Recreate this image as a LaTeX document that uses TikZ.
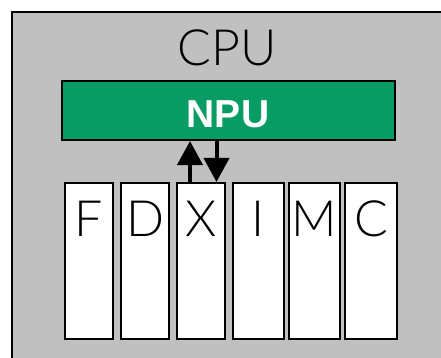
\documentclass[tikz,border=0pt]{standalone}
\usepackage{fontspec}
\setmainfont{Liberation Sans}
\newfontfamily\lightfont{Lato Light}
\usetikzlibrary{arrows.meta}
\definecolor{cpugray}{HTML}{C0C0C0}
\definecolor{npugreen}{HTML}{079C64}
\tikzset{
  stagebox/.style={draw=black, line width=2pt, fill=white, minimum width=48pt,
    minimum height=156pt, inner sep=0pt, anchor=north},
  stagelabel/.style={font=\lightfont\fontsize{50}{50}\selectfont, anchor=base, inner sep=0pt},
  bus/.style={line width=4pt, -{Triangle[width=25pt,length=24pt]}}
}
\begin{document}
\begin{tikzpicture}[x=1pt,y=-1pt]
  \useasboundingbox (0,0) rectangle (441,358);
  % CPU enclosure, running off the right and bottom edges
  \clip (0,0) rectangle (441,358);
  \draw[line width=2pt, fill=cpugray] (12,12) rectangle (460,380);
  \node[stagelabel] (cpu) at (227,66) {CPU};
  % NPU block
  \node[draw=black, line width=2pt, fill=npugreen, minimum width=333pt, minimum height=59pt,
        inner sep=0pt] (npu) at (228.5,110.5) {};
  \node[anchor=base, inner sep=0pt, text=white, font=\bfseries\fontsize{39}{39}\selectfont]
        (npulabel) at (228,128) {NPU};
  % pipeline stages
  \node[stagebox] (F) at (89,182) {};
  \node[stagebox] (D) at (145,182) {};
  \node[stagebox] (X) at (201,182) {};
  \node[stagebox, minimum width=51pt] (I) at (258.5,182) {};
  \node[stagebox, minimum width=51pt] (M) at (314.5,182) {};
  \node[stagebox, minimum width=52pt] (C) at (371,182) {};
  \node[stagelabel] (Fl) at (89,236) {F};
  \node[stagelabel] (Dl) at (145,236) {D};
  \node[stagelabel] (Xl) at (201,236) {X};
  \node[stagelabel] (Il) at (258.5,236) {I};
  \node[stagelabel] (Ml) at (314.5,236) {M};
  \node[stagelabel] (Cl) at (371,236) {C};
  % data paths between X and the NPU
  \draw[bus] (X.north -| 190,0) -- (npu.south -| 190,0);
  \draw[bus] (npu.south -| 216.5,0) -- (X.north -| 216.5,0);
\end{tikzpicture}
\end{document}
